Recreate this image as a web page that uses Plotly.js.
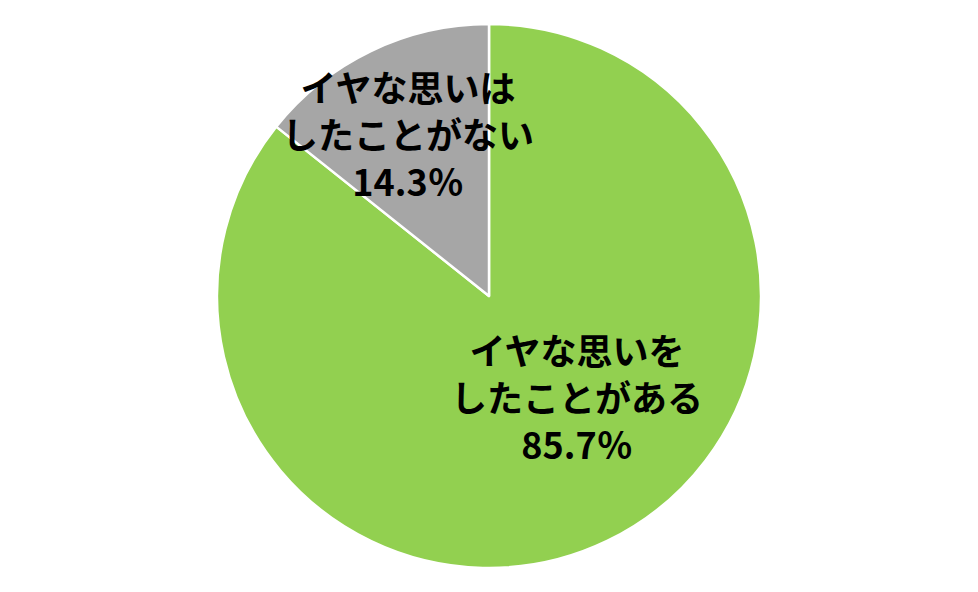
<!DOCTYPE html>
<html>
<head>
<meta charset="utf-8">
<script src="https://cdn.plot.ly/plotly-3.0.1.min.js"></script>
<style>
  html, body { margin: 0; padding: 0; background: #fff; }
  #chart { width: 978px; height: 592px; }
</style>
</head>
<body>
<div id="chart"></div>
<script>
// answers (green runs clockwise from 12 o'clock, gray closes the circle)
var labels = ['イヤな思いを<br>したことがある', 'イヤな思いは<br>したことがない'];
var values = [85.7, 14.3];
var colors = ['#92D050', '#A6A6A6'];

// label anchor spots in paper coords
var labelX = [0.590, 0.417];
var labelY = [0.331, 0.775];

var trace = {
  type: 'pie',
  labels: labels,
  values: values,
  sort: false,
  direction: 'clockwise',
  rotation: 0,
  textinfo: 'none',
  hoverinfo: 'label+percent',
  marker: { colors: colors, line: { color: '#ffffff', width: 2.5 } },
  domain: { x: [0.2219, 0.7781], y: [0.0405, 0.9595] }
};

var annotations = labels.map(function (lab, i) {
  return {
    xref: 'paper', yref: 'paper',
    x: labelX[i], y: labelY[i],
    xanchor: 'center', yanchor: 'middle',
    text: '<b>' + lab + '<br>' + values[i].toFixed(1) + '％</b>',
    showarrow: false,
    align: 'center',
    font: { family: '"Noto Sans CJK JP", "Noto Sans", sans-serif', size: 36, color: '#000' }
  };
});

var layout = {
  width: 978,
  height: 592,
  margin: { l: 0, r: 0, t: 0, b: 0 },
  showlegend: false,
  paper_bgcolor: '#ffffff',
  annotations: annotations
};

Plotly.newPlot('chart', [trace], layout, { displayModeBar: false });
</script>
</body>
</html>
